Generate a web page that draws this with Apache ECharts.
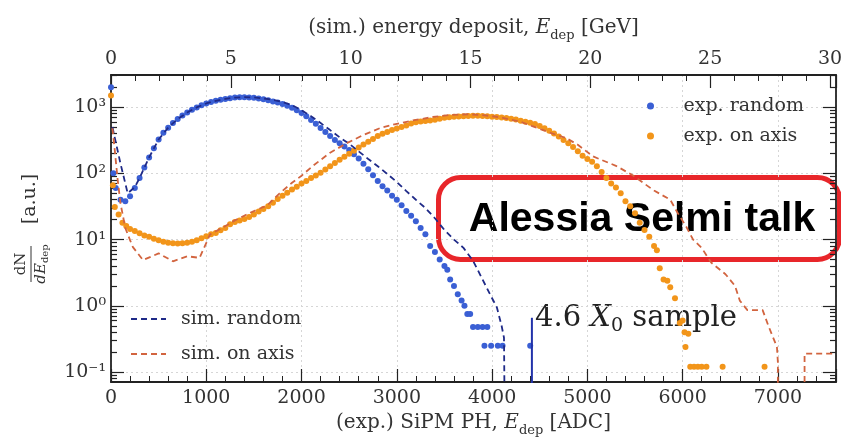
<!DOCTYPE html>
<html>
<head>
<meta charset="utf-8">
<script src="https://cdn.jsdelivr.net/npm/echarts@6/dist/echarts.min.js"></script>
<style>
  html, body { margin: 0; padding: 0; background: #fff; }
  #main { width: 841px; height: 437px; }
</style>
</head>
<body>
<div id="main"></div>
<script>
// axes: bottom = SiPM PH [ADC], top = energy deposit [GeV], y = log
const adcMax = 7610;
const gevMax = 30.25;
const yMin = 0.0708;
const yMax = 3055;
const yMajor = [0.1, 1, 10, 100, 1000];
const yTickLabels = ['10⁻¹', '10⁰', '10¹', '10²', '10³'];
const yMinor = [0.08, 0.09, 0.2, 0.3, 0.4, 0.5, 0.6, 0.7, 0.8, 0.9,
  2, 3, 4, 5, 6, 7, 8, 9, 20, 30, 40, 50, 60, 70, 80, 90,
  200, 300, 400, 500, 600, 700, 800, 900, 2000, 3000];

// exp. random (blue dots) [ADC, dN/dE]
const expRandom = [
  [0, 2000], [25, 100], [50, 60], [100, 40], [150, 38], [200, 45], [250, 60], [300, 85],
  [350, 123], [400, 174], [450, 240], [500, 325], [550, 410], [600, 490], [650, 575],
  [700, 660], [750, 750], [800, 830], [850, 910], [900, 990], [950, 1070], [1000, 1135],
  [1050, 1190], [1100, 1245], [1150, 1290], [1200, 1330], [1250, 1365], [1300, 1395],
  [1350, 1410], [1400, 1410], [1450, 1400], [1500, 1380], [1550, 1350], [1600, 1310],
  [1650, 1265], [1700, 1220], [1750, 1170], [1800, 1110], [1850, 1045], [1900, 975],
  [1950, 900], [2000, 815], [2050, 730], [2100, 640], [2150, 560], [2200, 485], [2250, 420],
  [2300, 365], [2350, 320], [2400, 285], [2450, 255], [2500, 225], [2550, 195], [2600, 168],
  [2650, 140], [2700, 115], [2750, 94], [2800, 77], [2850, 64], [2900, 55], [2950, 46],
  [3000, 40], [3050, 33], [3100, 27], [3150, 23], [3200, 19], [3250, 15], [3300, 12],
  [3350, 8], [3400, 6.5], [3450, 5], [3500, 4], [3530, 3.5], [3560, 2.5], [3600, 2],
  [3640, 1.5], [3680, 1.2], [3710, 1.0], [3740, 0.75], [3770, 0.75], [3800, 0.48],
  [3850, 0.48], [3900, 0.48], [3950, 0.48], [3920, 0.25], [3990, 0.25], [4060, 0.25],
  [4110, 0.25], [4400, 0.25]
];

// exp. on axis (orange dots)
const expOnAxis = [
  [0, 1500], [20, 66], [40, 31], [80, 24], [120, 18], [160, 16], [200, 14.5], [250, 13.5],
  [300, 12.5], [350, 11.5], [400, 11], [450, 10.3], [500, 9.8], [550, 9.3], [600, 9.0],
  [650, 8.8], [700, 8.7], [750, 8.8], [800, 9.0], [850, 9.3], [900, 9.8], [950, 10.5],
  [1000, 11.2], [1050, 12], [1100, 12.6], [1150, 13.8], [1200, 15], [1250, 17], [1300, 18.5],
  [1350, 19.5], [1400, 20.5], [1450, 22], [1500, 24], [1550, 26.5], [1600, 29], [1650, 32],
  [1700, 36], [1750, 41], [1800, 46], [1850, 51], [1900, 57], [1950, 63], [2000, 70],
  [2050, 77], [2100, 85], [2150, 93], [2200, 102], [2250, 114], [2300, 128], [2350, 143],
  [2400, 160], [2450, 178], [2500, 198], [2550, 220], [2600, 245], [2650, 272], [2700, 300],
  [2750, 330], [2800, 365], [2850, 395], [2900, 420], [2950, 450], [3000, 475], [3050, 500],
  [3100, 530], [3150, 565], [3200, 590], [3250, 605], [3300, 618], [3350, 630], [3400, 645],
  [3450, 665], [3500, 690], [3550, 705], [3600, 715], [3650, 722], [3700, 728], [3750, 735],
  [3800, 738], [3850, 738], [3900, 735], [3950, 728], [4000, 718], [4050, 708], [4100, 698],
  [4150, 685], [4200, 668], [4250, 648], [4300, 625], [4350, 602], [4400, 580], [4450, 555],
  [4500, 520], [4550, 480], [4600, 440], [4650, 400], [4700, 360], [4750, 320], [4800, 285],
  [4850, 250], [4900, 215], [4950, 185], [5000, 165], [5050, 150], [5100, 128], [5150, 105],
  [5200, 85], [5250, 70], [5300, 61], [5350, 50], [5400, 38], [5450, 32], [5500, 25],
  [5550, 18], [5600, 14], [5650, 11], [5700, 8], [5730, 6.9],
  [5760, 3.7], [5800, 2.5], [5840, 2.4], [5870, 1.9], [5920, 1.3], [5970, 0.55], [6000, 0.6],
  [6020, 0.4], [6060, 0.38], [6030, 0.24], [6080, 0.12], [6120, 0.12], [6160, 0.12],
  [6200, 0.12], [6250, 0.12], [6420, 0.12], [6860, 0.12]
];

// sim. random (dark blue dashed)
const simRandom = [
  [15, 500], [100, 140], [175, 50], [250, 62], [300, 85], [400, 174], [500, 325], [600, 490],
  [700, 660], [800, 830], [900, 990], [1000, 1135], [1100, 1245], [1200, 1330], [1300, 1395],
  [1400, 1415], [1500, 1400], [1600, 1355], [1700, 1290], [1800, 1200], [1900, 1070],
  [2000, 900], [2100, 730], [2200, 575], [2300, 450], [2400, 350], [2500, 280], [2600, 215],
  [2700, 165], [2800, 128], [2900, 98], [3000, 74], [3100, 54], [3200, 40], [3300, 30],
  [3400, 21], [3500, 14], [3600, 10], [3700, 7.5], [3800, 4.8], [3900, 2.5], [4000, 1.3],
  [4050, 0.95], [4100, 0.5], [4125, 0.33], [4130, 0.05]
];

// sim. on axis (orange-red dashed)
const simOnAxis = [
  [15, 480], [40, 220], [70, 80], [100, 35], [150, 15], [200, 9.8], [230, 7.7], [336, 4.9],
  [500, 6.2], [650, 4.7], [800, 5.6], [930, 5.3], [1040, 12], [1200, 16], [1300, 19.5],
  [1450, 25], [1640, 33], [1770, 50], [1900, 72], [2000, 92], [2120, 130], [2300, 205],
  [2480, 288], [2650, 380], [2820, 480], [3000, 560], [3170, 630], [3380, 710], [3550, 760],
  [3750, 780], [3900, 760], [4080, 705], [4300, 600], [4450, 500], [4600, 415], [4780, 340],
  [4900, 270], [5060, 180], [5300, 130], [5480, 93], [5580, 73], [5700, 55], [5870, 40],
  [5950, 25], [6040, 15.5], [6110, 10], [6200, 7.5], [6300, 4.5], [6450, 3], [6550, 2],
  [6600, 1.2], [6680, 0.86], [6840, 0.86], [6900, 0.5], [6990, 0.24], [7000, 0.14],
  [7000, 0.05], [7140, '-'], [7280, 0.05], [7280, 0.19], [7600, 0.19]
];

// 4.6 X0 sample marker
const sampleLine = [[4418, 0.66], [4418, 0.05]];

const serif = 'DejaVu Serif';
const ink = '#222';
const txt = '#333';
const gridDot = { color: '#d6d6d6', width: 1, type: [2, 3] };

function yLabel(v) {
  const i = yMajor.findIndex(t => Math.abs(t - v) / t < 1e-6);
  return i >= 0 ? yTickLabels[i] : '';
}

function richName(size) {
  return {
    n: { fontFamily: serif, fontSize: size, color: txt, lineHeight: 28 },
    it: { fontFamily: serif, fontSize: size, color: txt, fontStyle: 'italic', lineHeight: 28 },
    sub: { fontFamily: serif, fontSize: Math.round(size * 0.65), color: txt, verticalAlign: 'bottom', lineHeight: 16 }
  };
}

function yAxisBase(position, ticks, len, showLine) {
  return {
    type: 'log', position: position, min: yMin, max: yMax,
    axisLine: { show: showLine, lineStyle: { color: ink, width: 1.8 } },
    axisTick: { show: true, inside: true, length: len, customValues: ticks, lineStyle: { color: ink, width: 1.2 } },
    axisLabel: { show: false },
    splitLine: { show: false }
  };
}

const chart = echarts.init(document.getElementById('main'));
chart.setOption({
  animation: false,
  backgroundColor: '#fff',
  grid: { left: 111, right: 5, top: 75, bottom: 55, containLabel: false, outerBoundsMode: 'none' },
  legend: [
    {
      data: ['exp. random', 'exp. on axis'],
      orient: 'vertical', left: 642, top: 91, itemGap: 10,
      itemWidth: 56, itemHeight: 7, icon: 'circle',
      textStyle: { fontFamily: serif, fontSize: 19, color: txt, lineHeight: 20 }
    },
    {
      data: ['sim. random', 'sim. on axis'],
      orient: 'vertical', left: 125, top: 304, itemGap: 15,
      itemWidth: 35, itemHeight: 14,
      itemStyle: { opacity: 0 },
      textStyle: { fontFamily: serif, fontSize: 19, color: txt, lineHeight: 20, padding: [0, 0, 0, 10] }
    }
  ],
  xAxis: [
    {
      type: 'value', position: 'bottom', min: 0, max: adcMax, interval: 1000,
      axisLine: { onZero: false, lineStyle: { color: ink, width: 1.8 } },
      axisTick: { inside: true, length: 13, lineStyle: { color: ink, width: 1.2 } },
      minorTick: { show: true, splitNumber: 5, length: 6, lineStyle: { color: ink, width: 1 } },
      axisLabel: { showMaxLabel: false, margin: 7, fontFamily: serif, fontSize: 19, color: txt,
        formatter: v => String(v) },
      splitLine: { show: true, lineStyle: gridDot },
      name: '{n|(exp.) SiPM PH, }{it|E}{sub|dep}{n| [ADC]}',
      nameLocation: 'middle', nameGap: 26,
      nameTextStyle: { rich: richName(20) }
    },
    {
      type: 'value', position: 'top', min: 0, max: gevMax, interval: 5,
      axisLine: { onZero: false, lineStyle: { color: ink, width: 1.8 } },
      axisTick: { inside: true, length: 13, lineStyle: { color: ink, width: 1.2 } },
      minorTick: { show: true, splitNumber: 5, length: 6, lineStyle: { color: ink, width: 1 } },
      axisLabel: { showMaxLabel: false, margin: 6, fontFamily: serif, fontSize: 19, color: txt },
      splitLine: { show: false },
      name: '{n|(sim.) energy deposit, }{it|E}{sub|dep}{n| [GeV]}',
      nameLocation: 'middle', nameGap: 33,
      nameTextStyle: { rich: richName(20) }
    }
  ],
  yAxis: [
    {
      type: 'log', position: 'left', min: yMin, max: yMax,
      axisLine: { show: true, lineStyle: { color: ink, width: 1.8 } },
      axisTick: { show: true, inside: true, length: 13, customValues: yMajor, lineStyle: { color: ink, width: 1.2 } },
      axisLabel: { customValues: yMajor, formatter: yLabel, margin: 5, fontFamily: serif, fontSize: 19, color: txt },
      splitLine: { show: true, lineStyle: gridDot }
    },
    yAxisBase('left', yMinor, 6, false),
    yAxisBase('right', yMajor, 13, true),
    yAxisBase('right', yMinor, 6, false)
  ],
  series: [
    {
      name: 'exp. random', type: 'scatter', data: expRandom, symbolSize: 6,
      itemStyle: { color: '#3a5fd4', opacity: 1 }
    },
    {
      name: 'exp. on axis', type: 'scatter', data: expOnAxis, symbolSize: 6,
      itemStyle: { color: '#f2951a', opacity: 1 }
    },
    {
      name: 'sim. random', type: 'line', data: simRandom, symbol: 'none',
      lineStyle: { color: '#1f2a88', width: 1.8, type: [6, 4] },
      itemStyle: { color: '#1f2a88' }
    },
    {
      name: 'sim. on axis', type: 'line', data: simOnAxis, symbol: 'none', connectNulls: false,
      lineStyle: { color: '#d2643f', width: 1.8, type: [6, 4] },
      itemStyle: { color: '#d2643f' }
    },
    {
      name: 'marker', type: 'line', data: sampleLine, symbol: 'none', silent: true,
      lineStyle: { color: '#2233aa', width: 2 }
    }
  ],
  graphic: [
    {
      type: 'group', x: 30, y: 226, rotation: Math.PI / 2,
      children: [
        { type: 'text', x: 27, y: 0, style: { text: '[a.u.]', fontFamily: serif, fontSize: 19, fill: txt, align: 'center', verticalAlign: 'middle' } },
        { type: 'text', x: -38, y: -9, style: { text: 'dN', fontFamily: serif, fontSize: 15, fill: txt, align: 'center', verticalAlign: 'middle' } },
        { type: 'line', shape: { x1: -56, y1: 1, x2: -20, y2: 1 }, style: { stroke: txt, lineWidth: 1 } },
        { type: 'text', x: -38, y: 11, style: { text: '{a|dE}{b|dep}', align: 'center', verticalAlign: 'middle',
          rich: { a: { fontFamily: serif, fontSize: 15, fill: txt, fontStyle: 'italic', lineHeight: 18 }, b: { fontFamily: serif, fontSize: 10, fill: txt, verticalAlign: 'bottom', lineHeight: 12 } } } }
      ]
    },
    {
      type: 'text', x: 535, y: 318,
      style: {
        text: '{n|4.6 }{it|X}{sub|0}{n| sample}', verticalAlign: 'middle',
        rich: {
          n: { fontFamily: serif, fontSize: 29, fill: '#222', lineHeight: 36 },
          it: { fontFamily: serif, fontSize: 29, fill: '#222', fontStyle: 'italic', lineHeight: 36 },
          sub: { fontFamily: serif, fontSize: 19, fill: '#222', verticalAlign: 'bottom', lineHeight: 22 }
        }
      }
    },
    {
      type: 'rect', shape: { x: 438.5, y: 177.5, width: 401, height: 82, r: 22 },
      style: { fill: 'none', stroke: '#e8262a', lineWidth: 5 }
    },
    {
      type: 'text', x: 642, y: 220,
      style: { text: 'Alessia Selmi talk', fontFamily: 'Liberation Sans', fontWeight: 'bold', fontSize: 41,
        fill: '#000', align: 'center', verticalAlign: 'middle' }
    }
  ]
});
</script>
</body>
</html>
